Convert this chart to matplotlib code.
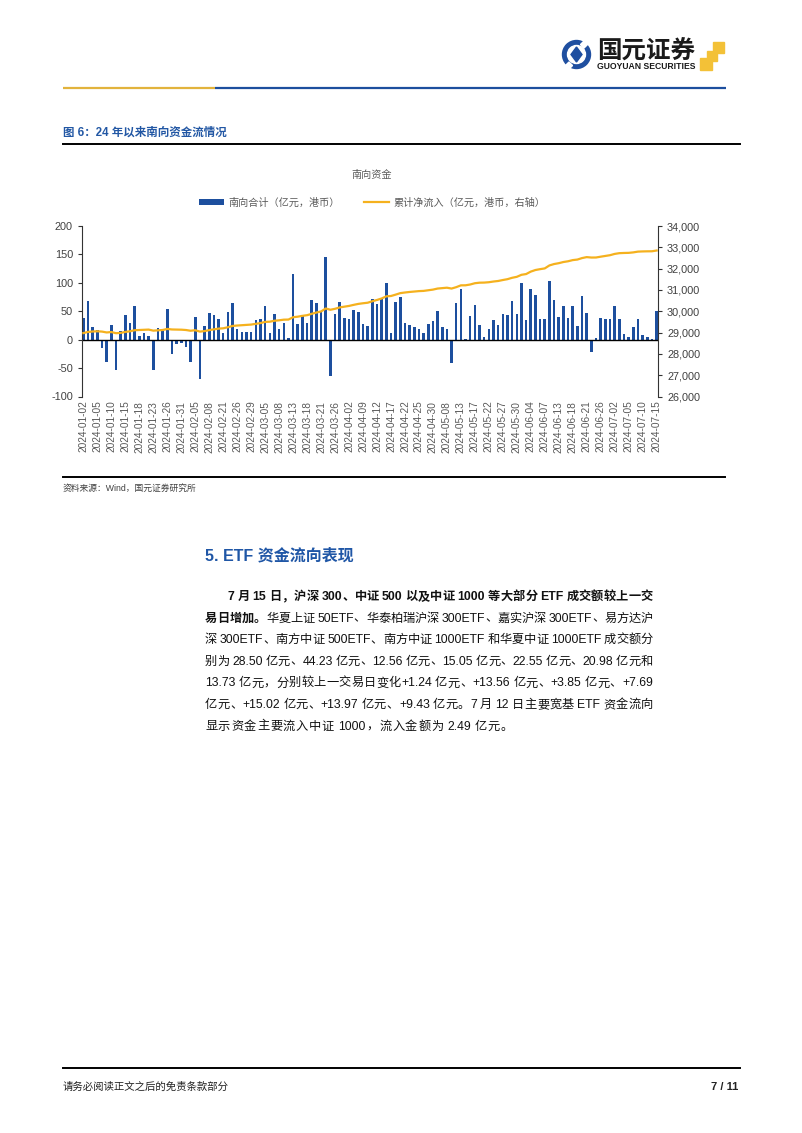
import matplotlib
matplotlib.use('Agg')
import matplotlib.pyplot as plt
import numpy as np
from matplotlib.patches import Rectangle, Circle, Polygon
from matplotlib.ticker import FuncFormatter

W, H = 802, 1133

# 南向合计（亿元，港币），每个交易日
flows = [39, 68, 23, 17, -15, -40, 26, -54, 15, 43,
         30, 59, 7, 11, 7, -53, 20, 16, 54, -26,
         -8, -6, -13, -39, 40, -69, 24, 47, 43, 36,
         12, 48, 65, 18, 14, 14, 14, 34, 37, 59,
         12, 45, 19, 30, 3, 115, 27, 41, 30, 69,
         64, 48, 145, -64, 46, 66, 38, 37, 52, 48,
         28, 24, 72, 62, 71, 99, 12, 67, 75, 29,
         25, 22, 19, 12, 28, 33, 51, 22, 19, -41,
         65, 89, 1, 41, 61, 26, 5, 18, 35, 26,
         45, 43, 68, 45, 99, 34, 89, 78, 37, 37,
         103, 69, 40, 59, 38, 59, 24, 76, 47, -22,
         3, 39, 37, 37, 60, 37, 10, 4, 23, 37,
         9, 5, 2, 51]

# 累计净流入（亿元，港币，右轴）
cum_inflow = [28975, 29030, 29050, 29060, 29045, 29005, 29025, 28970, 28985, 29030,
              29060, 29110, 29120, 29130, 29140, 29090, 29105, 29120, 29170, 29145,
              29140, 29135, 29120, 29085, 29110, 29045, 29070, 29115, 29150, 29185,
              29200, 29250, 29310, 29330, 29345, 29360, 29375, 29410, 29445, 29500,
              29510, 29555, 29575, 29605, 29610, 29720, 29745, 29785, 29815, 29880,
              29940, 29990, 30130, 30070, 30115, 30180, 30215, 30250, 30300, 30345,
              30375, 30400, 30470, 30530, 30600, 30700, 30715, 30780, 30850, 30880,
              30905, 30925, 30945, 30955, 30985, 31015, 31065, 31085, 31105, 31065,
              31130, 31215, 31218, 31255, 31315, 31340, 31345, 31362, 31395, 31420,
              31465, 31505, 31570, 31615, 31710, 31745, 31860, 31935, 31975, 32010,
              32150, 32215, 32255, 32310, 32345, 32400, 32425, 32495, 32540, 32520,
              32522, 32560, 32595, 32630, 32690, 32725, 32735, 32740, 32762, 32798,
              32807, 32812, 32814, 32850]

tick_dates = ['2024-01-02', '2024-01-05', '2024-01-10', '2024-01-15', '2024-01-18',
              '2024-01-23', '2024-01-26', '2024-01-31', '2024-02-05', '2024-02-08',
              '2024-02-21', '2024-02-26', '2024-02-29', '2024-03-05', '2024-03-08',
              '2024-03-13', '2024-03-18', '2024-03-21', '2024-03-26', '2024-04-02',
              '2024-04-09', '2024-04-12', '2024-04-17', '2024-04-22', '2024-04-25',
              '2024-04-30', '2024-05-08', '2024-05-13', '2024-05-17', '2024-05-22',
              '2024-05-27', '2024-05-30', '2024-06-04', '2024-06-07', '2024-06-13',
              '2024-06-18', '2024-06-21', '2024-06-26', '2024-07-02', '2024-07-05',
              '2024-07-10', '2024-07-15']

para_lines = [
    [('7 月 15 日，沪深 300、中证 500 以及中证 1000 等大部分 ETF 成交额较上一交', 'bold')],
    [('易日增加。', 'bold'), ('华夏上证 50ETF、华泰柏瑞沪深 300ETF、嘉实沪深 300ETF、易方达沪', 'normal')],
    [('深 300ETF、南方中证 500ETF、南方中证 1000ETF 和华夏中证 1000ETF 成交额分', 'normal')],
    [('别为 28.50 亿元、44.23 亿元、12.56 亿元、15.05 亿元、22.55 亿元、20.98 亿元和', 'normal')],
    [('13.73 亿元，分别较上一交易日变化+1.24 亿元、+13.56 亿元、+3.85 亿元、+7.69', 'normal')],
    [('亿元、+15.02 亿元、+13.97 亿元、+9.43 亿元。7 月 12 日主要宽基 ETF 资金流向', 'normal')],
    [('显示资金主要流入中证 1000，流入金额为 2.49 亿元。', 'normal')],
]

CJK = ['Noto Sans CJK SC', 'DejaVu Sans']
MIX = ['Liberation Sans', 'Noto Sans CJK SC', 'DejaVu Sans']
LAT = ['Liberation Sans', 'DejaVu Sans']
plt.rcParams['font.family'] = MIX
plt.rcParams['axes.unicode_minus'] = False

BLUE = '#1D4F9E'
GOLD = '#F5B11E'
GREY = '#595959'

fig = plt.figure(figsize=(W / 100, H / 100), dpi=100)
fig.patch.set_facecolor('white')

# page layer in pixel coords
page = fig.add_axes([0, 0, 1, 1], zorder=0)
page.set_xlim(0, W)
page.set_ylim(H, 0)
page.axis('off')
renderer = fig.canvas.get_renderer()


def text_w(s, **kw):
    t = page.text(0, 0, s, **kw)
    w = t.get_window_extent(renderer).width
    t.remove()
    return w


def fit_text(s, x0, x1, y, **kw):
    w = text_w(s, fontsize=10, **kw)
    fs = 10 * (x1 - x0) / w
    page.text(x0, y, s, fontsize=fs, va='center', ha='left', **kw)


# ---- header ----
page.plot([63, 215], [88, 88], color='#E2B33C', lw=1.6, solid_capstyle='butt')
page.plot([215, 726], [88, 88], color=BLUE, lw=1.6, solid_capstyle='butt')
page.add_patch(Circle((576.5, 54.5), 14, color='#1F4FA0'))
page.add_patch(Circle((576.5, 54.5), 9, color='white'))
page.add_patch(Polygon([[576.5, 47], [582, 54.5], [576.5, 62], [571, 54.5]], color='#1F4FA0'))
page.add_patch(Rectangle((584, 41), 5, 5, color='white', angle=45))
page.add_patch(Rectangle((569, 62), 5, 5, color='white', angle=45))
fit_text('国元证券', 597, 695, 52, family=CJK, fontweight='bold', color='#1a1a1a')
fit_text('GUOYUAN SECURITIES', 597, 695, 66.5, fontweight='bold', color='#1a1a1a')
for (sx, sy, s) in [(713, 42, 11), (706.5, 51, 10), (700, 58, 12)]:
    page.add_patch(Rectangle((sx, sy), s, s, color='#F3C137'))

# ---- figure caption ----
page.text(63, 133, '图 6：24 年以来南向资金流情况', fontsize=8.3, fontweight='bold',
          color='#2257A4', va='center', ha='left')
page.plot([63, 740], [144, 144], color='black', lw=1.4)

# ---- chart ----
ax = fig.add_axes([82 / W, 1 - 396.5 / H, (658 - 82) / W, (396.5 - 226) / H], zorder=2)
ax.set_facecolor('none')
x = np.arange(len(flows))
bars = ax.bar(x, flows, width=0.55, color=BLUE)
ax.axhline(0, color='black', lw=1)
ax.set_xlim(-0.3, len(flows) - 0.7)
ax.set_ylim(-100, 200)
ax.set_yticks(range(-100, 201, 50))
ax.set_xticks(x[::3])
ax.set_xticklabels(tick_dates, rotation=90, fontsize=7.3, color=GREY)
ax.tick_params(axis='x', length=0, pad=3)
ax.tick_params(axis='y', labelsize=7.8, labelcolor='#404040', length=3, width=0.8, color='#333333')
for s in ['top', 'right', 'bottom']:
    ax.spines[s].set_visible(False)
ax.spines['left'].set_color('#333333')

ax2 = ax.twinx()
line, = ax2.plot(x, cum_inflow, color=GOLD, lw=1.6)
ax2.set_ylim(26000, 34000)
ax2.set_yticks(range(26000, 34001, 1000))
ax2.yaxis.set_major_formatter(FuncFormatter(lambda v, p: f'{v:,.0f}'))
ax2.tick_params(axis='y', labelsize=7.8, labelcolor='#404040', length=3, width=0.8, color='#333333')
for s in ['top', 'left', 'bottom']:
    ax2.spines[s].set_visible(False)
ax2.spines['right'].set_color('#333333')

page.text(372, 175, '南向资金', fontsize=7.3, color=GREY, ha='center', va='center', family=CJK)
fig.legend([bars, line], ['南向合计（亿元，港币）', '累计净流入（亿元，港币，右轴）'],
           loc='center', bbox_to_anchor=(372 / W, 1 - 202.5 / H), ncol=2, frameon=False,
           prop={'family': CJK, 'size': 7.3}, labelcolor=GREY, handlelength=2.5,
           handleheight=0.6, handletextpad=0.4, columnspacing=2.4)

page.plot([63, 725], [477, 477], color='black', lw=1.4)
page.text(63, 488, '资料来源：Wind，国元证券研究所', fontsize=6.3, color='#404040', va='center', ha='left')

# ---- section 5 ----
page.text(205, 556, '5. ETF 资金流向表现', fontsize=11.5, fontweight='bold', color='#1F56A6',
          va='center', ha='left')

FS = 8.8
fs_px = FS * 100 / 72


def units(segs):
    out = []
    for s, wgt in segs:
        buf = ''
        for ch in s:
            if ch == ' ':
                if buf:
                    out.append((buf, wgt))
                    buf = ''
                out.append((' ', wgt))
            elif ord(ch) < 128:
                buf += ch
            else:
                if buf:
                    out.append((buf, wgt))
                    buf = ''
                out.append((ch, wgt))
        if buf:
            out.append((buf, wgt))
    return out


def fam(u):
    return LAT if ord(u[0]) < 128 else CJK


def draw_line(segs, x0, x1, y, justify=True):
    us = units(segs)
    ws = []
    for u, wgt in us:
        if u == ' ':
            ws.append(0.2 * fs_px)
        else:
            ws.append(text_w(u, fontsize=FS, fontweight=wgt, family=fam(u)))
    g0 = 0.06 * fs_px
    total = sum(ws) + g0 * (len(us) - 1)
    gap = g0 + ((x1 - x0 - total) / (len(us) - 1) if justify else 0)
    cx = x0
    for (u, wgt), w in zip(us, ws):
        if u != ' ':
            page.text(cx, y, u, fontsize=FS, fontweight=wgt, color='#111111',
                      family=fam(u), ha='left', va='baseline')
        cx += w + gap


y0 = 600
for i, segs in enumerate(para_lines):
    xs = 228 if i == 0 else 205
    draw_line(segs, xs, 653, y0 + i * 21.6, justify=(i < len(para_lines) - 1))

# ---- footer ----
page.plot([63, 740], [1068, 1068], color='black', lw=1.4)
page.text(63, 1087, '请务必阅读正文之后的免责条款部分', fontsize=7.5, color='#222222', va='center', ha='left')
page.text(738, 1087, '7 / 11', fontsize=8, fontweight='bold', color='#222222', va='center', ha='right')

fig.savefig('out.png', dpi=100)
